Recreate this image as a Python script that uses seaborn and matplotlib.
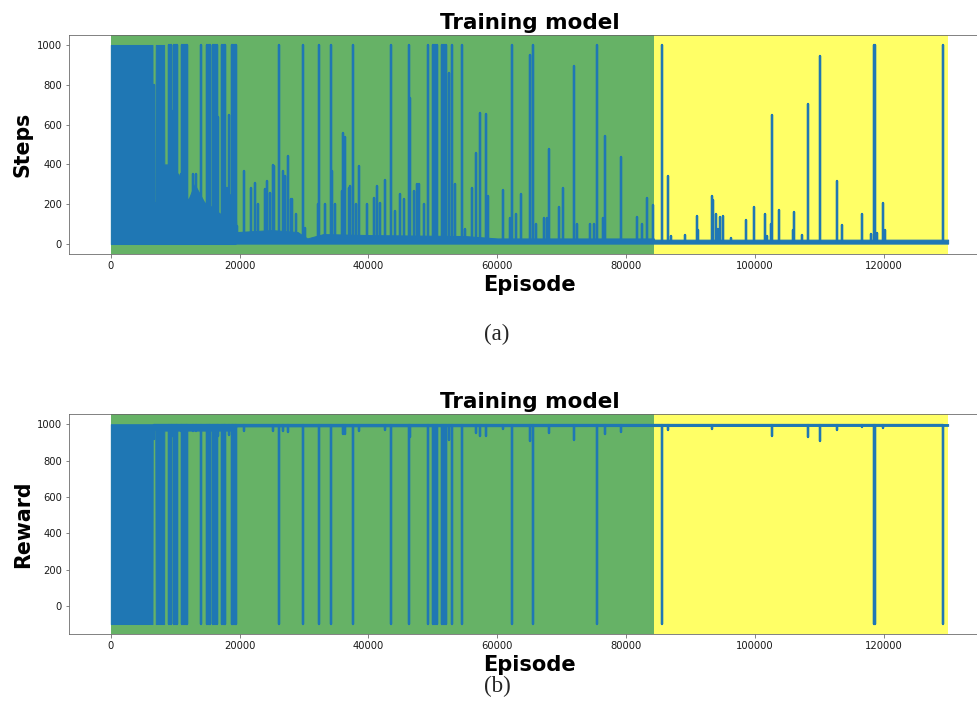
import numpy as np
import pandas as pd
import seaborn as sns
import matplotlib
matplotlib.use("Agg")
import matplotlib.pyplot as plt

# ---- data ----
n_episodes = 130000
phase_split = 84340  # green (exploration) -> yellow (exploitation)

# dense envelope of the per-episode noise (steps)
steps_band_ep = [0, 6460, 6500, 6900, 6980, 8270, 8300, 9000, 10500, 12000, 13000,
                 14500, 16000, 17000, 18000, 19300, 19500, 25000, 29000, 30500,
                 33000, 40000, 55000, 60000, 84300, 84400, 130000]
steps_band_hi = [1000, 1000, 210, 210, 1000, 1000, 400, 400, 350, 220, 300,
                 210, 180, 150, 250, 250, 60, 70, 60, 28,
                 50, 45, 40, 28, 28, 22, 22]
steps_band_lo = [0, 0, 0, 0, 0, 0, 0, 0, 0, 0, 0,
                 0, 0, 0, 0, 0, 2, 2, 2, 2,
                 2, 2, 2, 2, 2, 2, 2]

# individual spikes (steps)
steps_spike_ep = [6700, 9040, 9300, 9560, 9820, 10100, 10330, 10850, 11110, 11400,
                  11650, 11890, 12800, 13200, 13950, 14990, 15200, 15400, 15920, 16200,
                  16430, 16700, 17310, 17500, 17670, 18000, 18300, 18760, 19000, 19200,
                  19380, 19640, 20670, 21700, 22330, 22800, 23880, 24290, 24700, 25220,
                  25400, 26150, 26770, 27100, 27490, 27900, 28200, 28700, 29870, 30100,
                  32140, 32350, 33300, 34110, 34370, 34880, 35920, 36100, 36300, 37000,
                  37200, 37620, 38000, 38500, 39800, 40930, 41340, 41860, 42640, 43570,
                  44090, 44860, 45580, 46250, 46500, 47000, 47560, 47820, 48680, 49250,
                  49970, 50300, 50650, 51420, 51750, 52090, 52450, 52970, 53500, 54570,
                  54930, 56070, 56720, 57360, 58290, 58600, 60880, 61990, 62270, 62940,
                  63670, 65120, 65530, 66040, 67280, 67700, 68060, 69620, 70130, 71940,
                  72300, 74400, 75000, 75500, 76380, 76800, 79220, 81750, 82520, 83200,
                  84130, 85580, 86460, 87000, 89200, 90960, 91220, 93280, 93540, 93950,
                  94300, 94570, 95090, 96330, 98550, 99890, 101550, 101900, 102430, 102640,
                  103770, 105840, 106100, 107240, 108170, 110130, 112820, 113490, 116690, 118090,
                  118500, 118650, 118900, 119900, 120160, 129200]
steps_spike_val = [800, 1000, 1000, 670, 1000, 1000, 1000, 350, 1000, 1000,
                   1000, 1000, 350, 350, 1000, 1000, 1000, 1000, 1000, 1000,
                   1000, 640, 1000, 1000, 1000, 280, 650, 1000, 1000, 1000,
                   1000, 91, 367, 283, 308, 200, 275, 317, 258, 397,
                   392, 1000, 367, 342, 442, 225, 225, 150, 1000, 80,
                   200, 1000, 200, 1000, 367, 200, 267, 558, 540, 283,
                   290, 1000, 200, 392, 200, 233, 292, 208, 320, 1000,
                   167, 250, 225, 1000, 733, 267, 300, 300, 200, 1000,
                   1000, 1000, 1000, 1000, 1000, 1000, 858, 1000, 300, 1000,
                   75, 283, 458, 658, 653, 240, 272, 130, 1000, 150,
                   250, 950, 1000, 100, 130, 130, 475, 187, 283, 892,
                   100, 100, 100, 1000, 130, 542, 438, 138, 100, 233,
                   195, 1000, 342, 40, 45, 142, 70, 242, 220, 150,
                   75, 136, 142, 30, 122, 187, 153, 40, 100, 650,
                   170, 70, 163, 45, 705, 947, 317, 95, 152, 50,
                   1000, 1000, 55, 205, 70, 1000]

# dense envelope (reward)
reward_band_ep = [0, 6460, 6500, 6900, 6980, 8270, 8300, 19300, 19500, 84340, 130000]
reward_band_lo = [-100, -100, 970, 970, -100, -100, 965, 965, 988, 990, 991]
reward_band_hi = [1000, 1000, 1000, 1000, 1000, 1000, 1001, 1001, 1001, 1001, 1001]

# individual dips (reward)
reward_dip_ep = [6700, 9040, 9300, 9560, 9820, 10100, 10330, 10850, 11110, 11400,
                 11650, 11890, 12800, 13200, 13950, 14990, 15200, 15400, 15920, 16200,
                 16430, 16700, 17310, 17500, 17670, 18300, 18760, 19000, 19200, 19380,
                 20670, 25220, 26150, 26770, 27490, 29870, 32350, 34110, 36100, 36300,
                 37620, 38500, 42640, 43570, 46250, 46500, 49250, 49970, 50300, 50650,
                 51420, 51750, 52090, 52450, 52970, 54570, 56720, 57360, 58290, 60880,
                 62270, 65120, 65530, 68060, 71940, 75500, 76800, 79220, 85580, 86460,
                 93280, 102640, 108170, 110130, 112820, 116690, 118500, 118650, 119900, 129200]
reward_dip_val = [920, -100, -100, 935, -100, -100, -100, 965, -100, -100,
                  -100, -100, 965, 965, -100, -100, -100, -100, -100, -100,
                  -100, 936, -100, -100, -100, 940, -100, -100, -100, -100,
                  963, 960, -100, 963, 956, -100, -100, -100, 944, 946,
                  -100, 961, 968, -100, -100, 927, -100, -100, -100, -100,
                  -100, -100, -100, 914, -100, -100, 954, 934, 935, 973,
                  -100, 905, -100, 952, 911, -100, 946, 956, -100, 966,
                  976, 935, 930, 905, 968, 985, -100, -100, 980, -100]

steps_base = 12
reward_base = 996


def spike_frame(eps, vals, base):
    # every spike goes base -> value -> base at its episode
    xs, ys = [], []
    for e, v in zip(eps, vals):
        xs += [e, e, e]
        ys += [base, v, base]
    return pd.DataFrame({"Episode": xs, "value": ys})


sns.set_style("ticks", {"axes.edgecolor": "0.4", "xtick.color": "0.4", "ytick.color": "0.4"})
plt.rcParams["xtick.major.size"] = 3.5
plt.rcParams["ytick.major.size"] = 3.5
plt.rcParams["xtick.labelcolor"] = "0.1"
plt.rcParams["ytick.labelcolor"] = "0.1"

fig = plt.figure(figsize=(977 / 72, 725 / 72), dpi=72)
ax1 = fig.add_axes([0.0706, 0.6497, 0.9427, 0.302])
ax2 = fig.add_axes([0.0706, 0.1255, 0.9427, 0.3034])

line_color = "#1f77b4"
panels = [
    (ax1, steps_band_ep, steps_band_lo, steps_band_hi, steps_spike_ep, steps_spike_val, steps_base, "Steps"),
    (ax2, reward_band_ep, reward_band_lo, reward_band_hi, reward_dip_ep, reward_dip_val, reward_base, "Reward"),
]
for ax, b_ep, b_lo, b_hi, s_ep, s_val, base, ylab in panels:
    ax.axvspan(0, phase_split, color="green", alpha=0.6, lw=0, zorder=0)
    ax.axvspan(phase_split, n_episodes, color="yellow", alpha=0.6, lw=0, zorder=0)
    ax.fill_between(b_ep, b_lo, b_hi, facecolor=line_color, edgecolor=line_color, lw=1.0, zorder=2)
    sns.lineplot(data=spike_frame(s_ep, s_val, base), x="Episode", y="value",
                 estimator=None, sort=False, color=line_color, lw=2.3, ax=ax, zorder=3)
    ax.set_xlim(-0.05 * n_episodes, 1.05 * n_episodes)
    ax.set_title("Training model", fontsize=21.5, fontweight="bold", color="black")
    ax.set_xlabel("Episode", fontsize=21, fontweight="bold", color="black")
    ax.set_ylabel(ylab, fontsize=20.5, fontweight="bold", color="black")
    ax.tick_params(labelsize=10)
    ax.set_xticks([0, 20000, 40000, 60000, 80000, 100000, 120000])
    ax.set_yticks([0, 200, 400, 600, 800, 1000])

fig.text(0.5087, 0.538, "(a)", family="Liberation Serif", fontsize=23, ha="center", va="center")
fig.text(0.5087, 0.0538, "(b)", family="Liberation Serif", fontsize=23, ha="center", va="center")

fig.savefig("out.png", dpi=72)
